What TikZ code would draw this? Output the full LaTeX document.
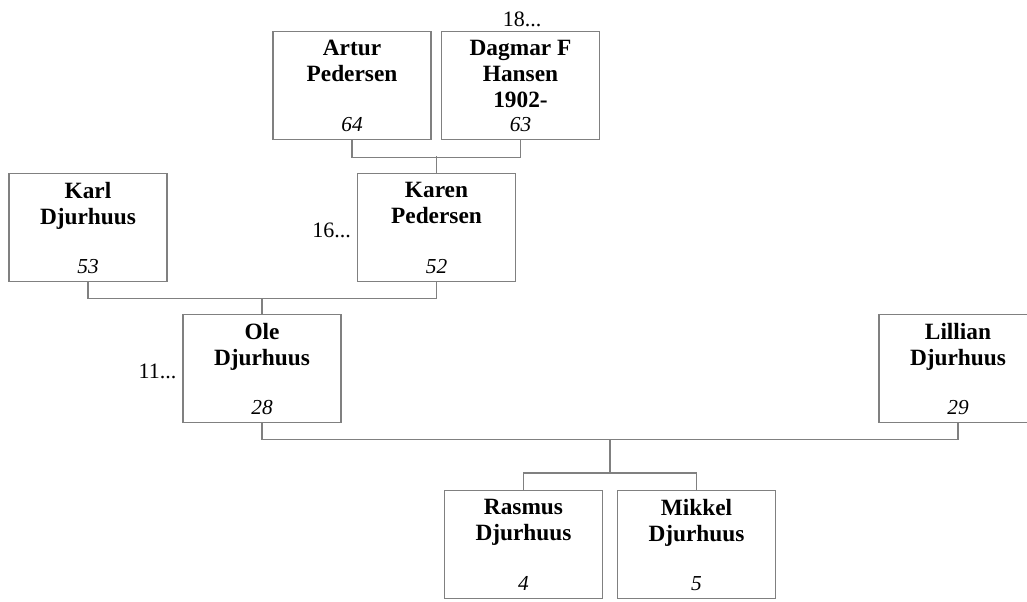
\documentclass[tikz,border=0pt]{standalone}
\usepackage{fontspec}
\setmainfont{Liberation Serif}
\usetikzlibrary{positioning,calc}

\begin{document}
\begin{tikzpicture}[x=0.75pt,y=-0.75pt,
    person/.style={draw=black!50, line width=0.95pt, minimum width=118.5pt, minimum height=81pt, inner sep=0pt},
    nametext/.style={font=\fontsize{17.5}{19.5}\selectfont\bfseries, align=center, inner sep=0pt},
    agetext/.style={font=\fontsize{16}{19}\selectfont\itshape, anchor=base, inner sep=0pt},
    moretext/.style={font=\fontsize{16.5}{19}\selectfont, anchor=base, inner sep=0pt},
    link/.style={draw=black!50, line width=0.95pt}]
  \clip (0,0) rectangle (1027,601);

  % boxes
  \foreach \id/\cx/\cy/\txt/\age in {
      artur/352/85.5/{Artur\\Pedersen}/64,
      dagmar/520.5/85.5/{Dagmar F\\Hansen\\1902-}/63,
      karl/88/227.5/{Karl\\Djurhuus}/53,
      karen/436.5/227.5/{Karen\\Pedersen}/52,
      ole/262/368.5/{Ole\\Djurhuus}/28,
      lillian/958/368.5/{Lillian\\Djurhuus}/29,
      rasmus/523.5/544.5/{Rasmus\\Djurhuus}/4,
      mikkel/696.5/544.5/{Mikkel\\Djurhuus}/5} {
    \node[person] (\id) at (\cx,\cy) {};
    \node[nametext, below=6.75pt of \id.north] (\id-name) {\txt};
    \node[agetext] (\id-age) at ([yshift=6.75pt]\id.south) {\age};
  }

  \node[moretext] (more18) at (522,26) {18...};
  \node[moretext] (more16) at (331.5,237) {16...};
  \node[moretext] (more11) at (157.5,378) {11...};

  % lines
  \draw[link] (artur.south) -- ++(0,17) -| (dagmar.south);
  \draw[link] (karen.north) -- ++(0,-17);
  \draw[link] (karl.south) -- ++(0,16) -| (karen.south);
  \draw[link] (ole.north) -- ++(0,-16);
  \draw[link] (ole.south) -- ++(0,16) -| (lillian.south);
  \coordinate (kids) at ($(ole.south)!0.5!(lillian.south)+(0,16)$);
  \draw[link] (kids) -- ++(0,34);
  \draw[link] (rasmus.north) -- ++(0,-17) -| (mikkel.north);
\end{tikzpicture}
\end{document}
